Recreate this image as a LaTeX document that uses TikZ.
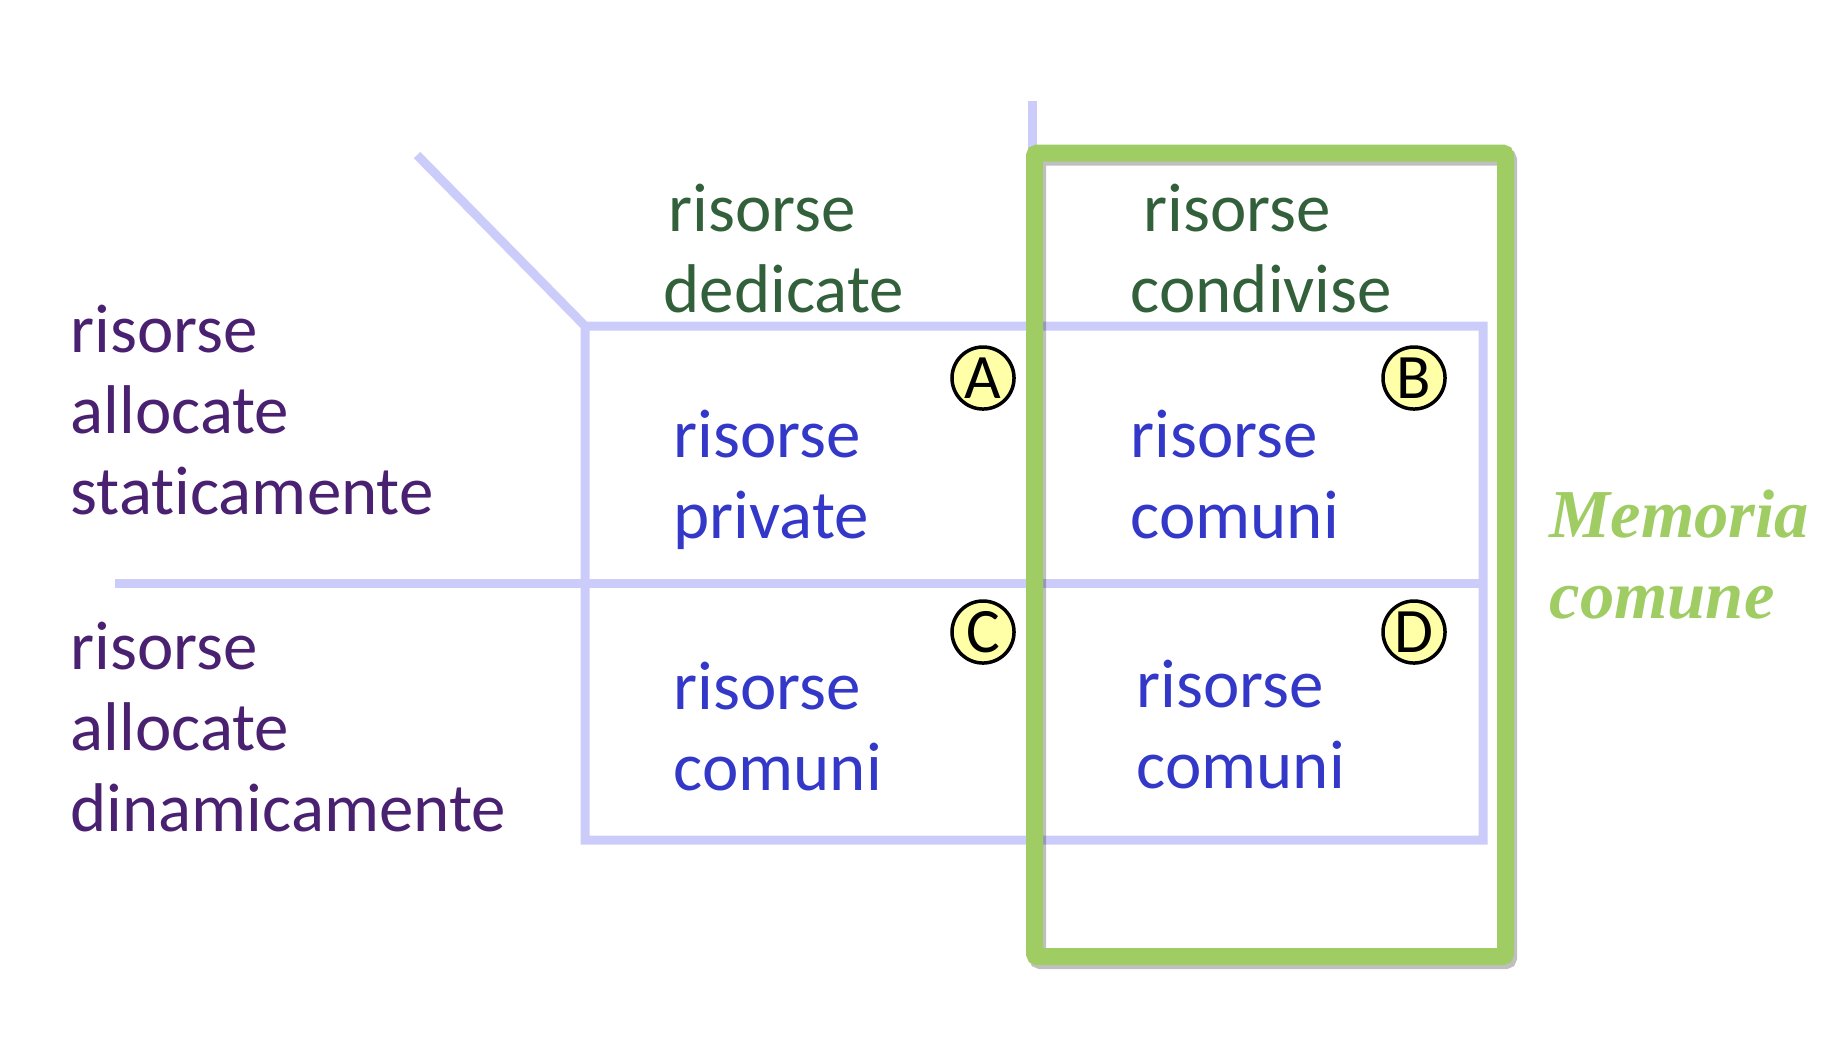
\documentclass[tikz,border=0pt]{standalone}
\usepackage{fontspec}
\setmainfont{Carlito}[Ligatures = NoCommon]
\newfontfamily\memfont{Liberation Serif}

\definecolor{lavender}{RGB}{204,204,250}
\definecolor{memgreen}{RGB}{160,204,100}
\definecolor{headgreen}{RGB}{50,96,58}
\definecolor{labelpurple}{RGB}{74,32,112}
\definecolor{cellblue}{RGB}{51,56,200}
\definecolor{badgefill}{RGB}{255,255,168}

\begin{document}
\begin{tikzpicture}[x = 0.01cm, y = -0.01cm, line join = miter,
  grid/.style = {draw = lavender, line width = 0.09cm},
  txt/.style = {anchor = base west, inner sep = 0pt, align = left,
    font = \fontsize{19.6}{23}\selectfont},
  badge/.style = {circle, draw = black, line width = 0.035cm, fill = badgefill,
    minimum size = 0.62cm, inner sep = 0pt, font = \fontsize{18}{20}\selectfont}]
\useasboundingbox (0, 0) rectangle (1846, 1050);
% Grid lines
\draw[grid](417, 155) -- (585, 326) -- (1483, 326) -- (1483, 840) -- (585, 840) -- (585, 326);
\draw[grid](115, 583) -- (1483, 583);
\draw[grid](1032, 101) -- (1032, 840);
% Shared memory box
\draw[black, opacity = 0.25, line width = 0.17cm, rounded corners = 0.03cm, shift = {(3, 4)}]
  (1034.5, 153) rectangle (1505.5, 956.5);
\draw[memgreen, line width = 0.17cm, rounded corners = 0.03cm]
  (1034.5, 153) rectangle (1505.5, 956.5);
% Column headers (anchored on the last line)
\node[txt, headgreen] (dedicate) at (663, 312) {\hspace*{0.05cm}risorse\\dedicate};
\node[txt, headgreen] (condivise) at (1130, 312) {\hspace*{0.13cm}risorse\\condivise};
% Row headers
\node[txt, labelpurple] (statica) at (70, 514) {risorse\\allocate\\staticamente};
\node[txt, labelpurple] (dinamica) at (70, 831) {risorse\\allocate\\dinamicamente};
% Cells
\node[txt, cellblue] (private) at (673, 538) {risorse\\private};
\node[txt, cellblue] (comuniB) at (1130, 538) {risorse\\comuni};
\node[txt, cellblue] (comuniC) at (673, 790) {risorse\\comuni};
\node[txt, cellblue] (comuniD) at (1136, 788) {risorse\\comuni};
% Badges
\node[badge] (A) at (983, 378) {A};
\node[badge] (B) at (1414, 378) {B};
\node[badge] (C) at (983, 632) {C};
\node[badge] (D) at (1414, 632) {D};
% Side label
\node[txt, memgreen, font = \memfont\bfseries\itshape\fontsize{19.5}{23}\selectfont]
  (memoria) at (1549, 618) {Memoria\\comune};
\end{tikzpicture}
\end{document}
